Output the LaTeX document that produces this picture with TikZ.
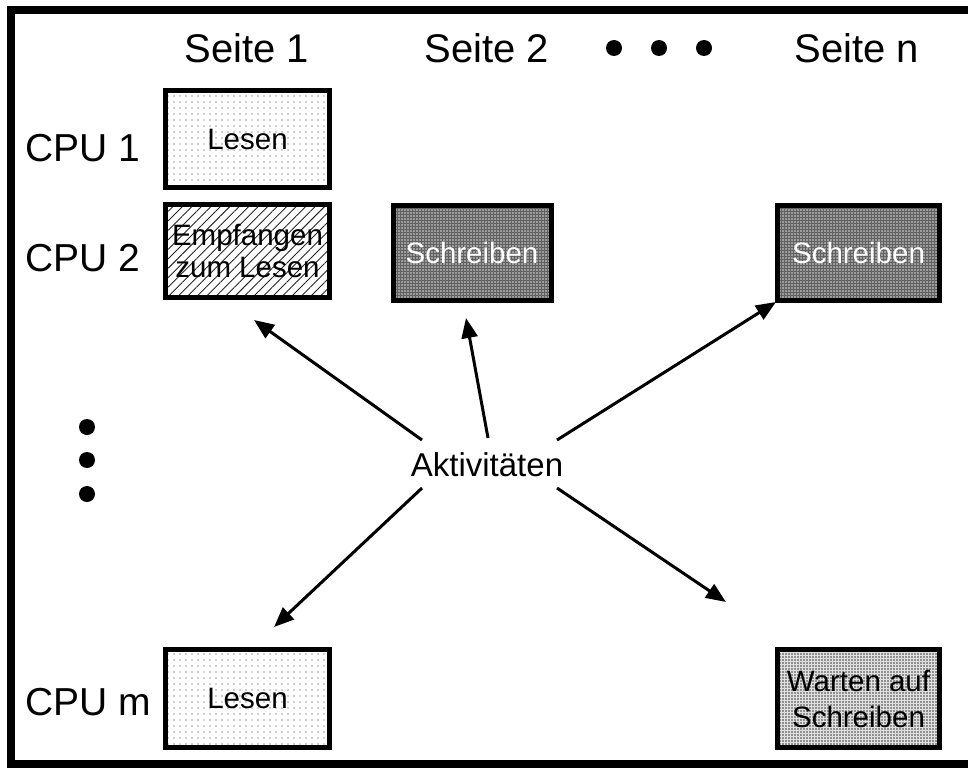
\documentclass[tikz,border=0pt]{standalone}
\usepackage{fontspec}
\setmainfont{Liberation Sans}
\usetikzlibrary{patterns.meta,arrows.meta}

\begin{document}
\begin{tikzpicture}[x=1pt,y=-1pt,
  head/.style={font=\fontsize{40}{46}\selectfont, inner sep=0pt},
  cpu/.style={font=\fontsize{39}{46}\selectfont, inner sep=0pt},
  task/.style={draw, line width=5pt, inner sep=0pt, align=center,
    font=\fontsize{29.5}{32}\selectfont},
  readbox/.style={task, pattern={Dots[distance=6pt,radius=0.7pt]}, pattern color=black!80},
  recvbox/.style={task, pattern={Lines[distance=6.7pt,angle=45,line width=0.9pt]}, pattern color=black!85},
  writebox/.style={task, preaction={fill=black!62}, pattern={Dots[distance=3pt,radius=0.85pt]},
    pattern color=white!85!black, text=white},
  waitbox/.style={task, preaction={fill=black!12}, pattern={Dots[distance=3pt,radius=0.85pt]},
    pattern color=black!75},
  act/.style={line width=3pt, -{Triangle[length=20pt,width=16pt]}},
  bullet/.style={circle, fill, inner sep=0pt, minimum size=16pt}
]
\useasboundingbox (0,0) rectangle (968,768);

% outer frame: left, top and bottom sides run off the right page edge
\coordinate (fr1) at (975,10);
\coordinate (fr2) at (11,10);
\coordinate (fr3) at (11,764);
\coordinate (fr4) at (975,764);
\draw[line width=8pt] (fr1) -- (fr2) -- (fr3) -- (fr4);

% column headers
\node[head] (s1) at (247,48) {Seite 1};
\node[head] (s2) at (487,48) {Seite 2};
\node[bullet] (hd1) at (614,48) {};
\node[bullet] (hd2) at (659,48) {};
\node[bullet] (hd3) at (704,48) {};
\node[head] (sn) at (857,48) {Seite n};

% row labels
\node[cpu] (c1) at (83,148) {CPU 1};
\node[cpu] (c2) at (83,258) {CPU 2};
\node[cpu] (cm) at (88,702) {CPU m};
\node[bullet] (vd1) at (87,427) {};
\node[bullet] (vd2) at (87,460) {};
\node[bullet] (vd3) at (87,494) {};

% activity boxes
\node[readbox, minimum width=164pt, minimum height=97pt] (b11) at (247.5,139) {Lesen};
\node[recvbox, minimum width=164pt, minimum height=93pt] (b21) at (247.5,251) {Empfangen\\zum Lesen};
\node[writebox, minimum width=158pt, minimum height=95pt] (b22) at (472,253) {Schreiben};
\node[writebox, minimum width=162pt, minimum height=95pt] (b2n) at (858.5,253) {Schreiben};
\node[readbox, minimum width=164pt, minimum height=98pt] (bm1) at (247.5,698.5) {Lesen};
\node[waitbox, minimum width=162pt, minimum height=98pt, font=\fontsize{29.5}{36}\selectfont] (bmn) at (858.5,698.5) {Warten auf\\Schreiben};

% central label and its arrows
\node[font=\fontsize{33}{40}\selectfont, inner sep=0pt] (akt) at (487,465) {Aktivitäten};

\coordinate (f1) at (422,440);
\coordinate (f2) at (488,438);
\coordinate (f3) at (557,440);
\coordinate (f4) at (422,488);
\coordinate (f5) at (557,488);
\coordinate (t1) at (254,320);
\coordinate (t2) at (466,318);
\coordinate (t3) at (776,302);
\coordinate (t4) at (274,627);
\coordinate (t5) at (726,602);

\draw[act] (f1) -- (t1);
\draw[act] (f2) -- (t2);
\draw[act] (f3) -- (t3);
\draw[act] (f4) -- (t4);
\draw[act] (f5) -- (t5);
\end{tikzpicture}
\end{document}
